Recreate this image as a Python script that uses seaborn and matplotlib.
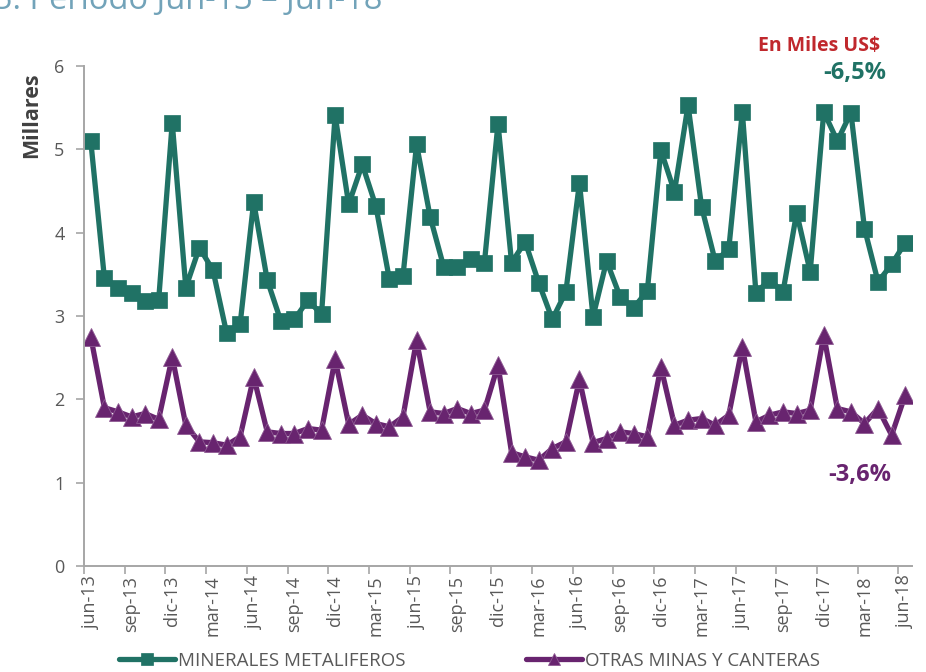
import matplotlib
matplotlib.use("Agg")
import matplotlib.pyplot as plt
import seaborn as sns
import pandas as pd
import numpy as np

# ---------------- data ----------------
month_abbr = ["ene", "feb", "mar", "abr", "may", "jun",
              "jul", "ago", "sep", "oct", "nov", "dic"]
periods = pd.period_range("2013-06", "2018-06", freq="M")
months = [f"{month_abbr[p.month - 1]}-{str(p.year)[2:]}" for p in periods]

minerales_metaliferos = [5.10, 3.46, 3.34, 3.28, 3.18, 3.19, 5.32, 3.34, 3.82, 3.55,
                         2.80, 2.90, 4.37, 3.43, 2.94, 2.96, 3.19, 3.02, 5.41, 4.34,
                         4.82, 4.32, 3.44, 3.48, 5.06, 4.19, 3.59, 3.59, 3.69, 3.64,
                         5.31, 3.64, 3.89, 3.40, 2.96, 3.29, 4.60, 2.99, 3.66, 3.23,
                         3.10, 3.30, 4.99, 4.49, 5.53, 4.31, 3.66, 3.80, 5.45, 3.28,
                         3.43, 3.29, 4.24, 3.53, 5.45, 5.10, 5.44, 4.05, 3.41, 3.62,
                         3.88]
otras_minas = [2.75, 1.90, 1.85, 1.79, 1.83, 1.76, 2.51, 1.69, 1.49, 1.48,
               1.45, 1.55, 2.27, 1.61, 1.59, 1.59, 1.65, 1.63, 2.48, 1.70,
               1.81, 1.71, 1.67, 1.79, 2.71, 1.85, 1.83, 1.89, 1.83, 1.87,
               2.41, 1.36, 1.31, 1.27, 1.41, 1.49, 2.24, 1.48, 1.53, 1.61,
               1.59, 1.55, 2.39, 1.69, 1.75, 1.77, 1.69, 1.81, 2.63, 1.73,
               1.81, 1.85, 1.83, 1.87, 2.77, 1.89, 1.85, 1.71, 1.89, 1.57,
               2.05]
series_names = ["MINERALES METALIFEROS", "OTRAS MINAS Y CANTERAS"]
variaciones = ["-6,5%", "-3,6%"]
y_ticks = [0, 1, 2, 3, 4, 5, 6]

GREEN = "#207265"
PURPLE = "#68246F"
GREY_TXT = "#595959"
SPINE = "#A6A6A6"

df = pd.DataFrame({
    "idx": np.arange(len(months)),
    "mes": months,
    series_names[0]: minerales_metaliferos,
    series_names[1]: otras_minas,
})

# ---------------- figure ----------------
sns.set_style("white")
plt.rcParams["font.family"] = ["Open Sans", "DejaVu Sans"]

fig = plt.figure(figsize=(9.26, 6.72), dpi=100)
ax = fig.add_axes([84 / 926, 1 - 566 / 672, (912 - 84) / 926, (566 - 66) / 672])

sns.lineplot(data=df, x="idx", y=series_names[0], ax=ax, color=GREEN,
             linewidth=3.8, marker="s", markersize=11.5, markeredgecolor=GREEN,
             markeredgewidth=0.5, label=series_names[0])
sns.lineplot(data=df, x="idx", y=series_names[1], ax=ax, color=PURPLE,
             linewidth=3.8, marker="^", markersize=13, markeredgecolor="#8e5a93",
             markeredgewidth=0.6, label=series_names[1])

ax.set_xlim(-0.5, len(months) - 0.5)
ax.set_ylim(0, 6)
ax.set_yticks(y_ticks)
ax.set_yticklabels([str(v) for v in y_ticks], color=GREY_TXT, fontsize=13)

label_pos = list(range(0, len(months), 3))
ax.set_xticks(label_pos)
ax.set_xticklabels([months[i] for i in label_pos], rotation=90,
                   color=GREY_TXT, fontsize=13)
ax.set_xticks([p - 0.5 for p in label_pos], minor=True)
ax.tick_params(axis="x", which="major", length=0, pad=7)
ax.tick_params(axis="x", which="minor", length=6, width=1.2, color=SPINE,
               direction="out", bottom=True)
ax.tick_params(axis="y", length=6, width=1.2, color=SPINE, direction="out",
               left=True, pad=8)

for s in ["top", "right"]:
    ax.spines[s].set_visible(False)
for s in ["left", "bottom"]:
    ax.spines[s].set_color(SPINE)
    ax.spines[s].set_linewidth(1.4)

ax.set_xlabel("")
ax.set_ylabel("Millares", fontsize=15.5, fontweight="bold", color="#404040")
ax.yaxis.set_label_coords(-0.051, 0.902)
ax.grid(False)

# legend at bottom
handles, labels = ax.get_legend_handles_labels()
ax.get_legend().remove()
leg = fig.legend(handles, labels, loc="center", ncol=2,
                 bbox_to_anchor=(0.507, 1 - 661 / 672), frameon=False,
                 fontsize=13.5, handlelength=3.0, handletextpad=0.15,
                 columnspacing=6.4, markerscale=0.7)
for t in leg.get_texts():
    t.set_color(GREY_TXT)

# annotations
fig.text(880 / 926, 1 - 46 / 672, "En Miles US$", color="#C0282D",
         fontsize=14, fontweight="bold", ha="right", va="center")
fig.text(855 / 926, 1 - 73 / 672, variaciones[0], color=GREEN,
         fontsize=17, fontweight="bold", ha="center", va="center")
fig.text(860 / 926, 1 - 475 / 672, variaciones[1], color=PURPLE,
         fontsize=17, fontweight="bold", ha="center", va="center")

# clipped section title at the very top
fig.text(-6 / 926, 1 - 9 / 672, "3. Periodo Jun-13 – Jun-18", color="#72A3B9",
         fontsize=23.5, ha="left", va="baseline")

fig.savefig("out.png", dpi=100)
